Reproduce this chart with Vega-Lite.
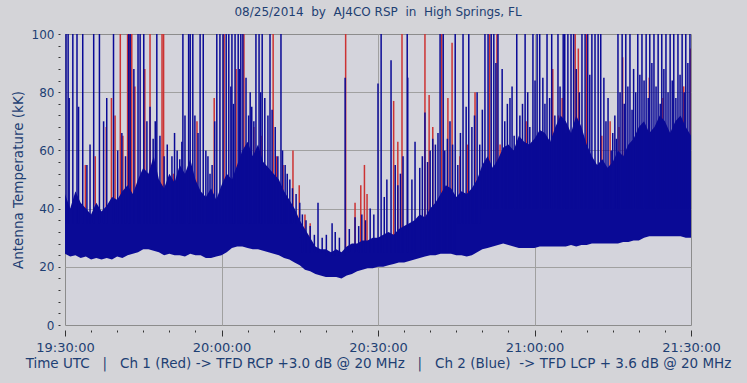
{
"$schema": "https://vega.github.io/schema/vega-lite/v6.json",
"width": 626, "height": 291,
"autosize": "none",
"padding": {"left": 65, "top": 34, "right": 56, "bottom": 58},
"background": "#d4d4d8",
"config": {"view": {"fill": "#d4d4dc", "stroke": "#8c8c8c", "strokeWidth": 1}, "font": "DejaVu Sans"},
"title": {"text": "08/25/2014\u00a0 by\u00a0 AJ4CO RSP\u00a0 in\u00a0 High Springs, FL", "fontSize": 12, "font": "DejaVu Sans", "fontWeight": "normal", "color": "#1e3f73", "offset": 9, "anchor": "middle"},
"datasets": {
"body": [
{"t":0,"lo":24.5,"hi":45},{"t":1,"lo":23.5,"hi":40},{"t":2,"lo":24,"hi":46},{"t":3,"lo":23,"hi":42},{"t":4,"lo":23.5,"hi":40},{"t":5,"lo":22.5,"hi":38},{"t":6,"lo":23,"hi":42},{"t":7,"lo":22.5,"hi":39},{"t":8,"lo":23,"hi":41},{"t":9,"lo":22.5,"hi":44},
{"t":10,"lo":23.5,"hi":43},{"t":11,"lo":23,"hi":46},{"t":12,"lo":24,"hi":48},{"t":13,"lo":24.5,"hi":45},{"t":14,"lo":25,"hi":50},{"t":15,"lo":26,"hi":54},{"t":16,"lo":26,"hi":52},{"t":17,"lo":25.5,"hi":58},{"t":18,"lo":25,"hi":50},{"t":19,"lo":24,"hi":47},
{"t":20,"lo":24.5,"hi":52},{"t":21,"lo":24,"hi":49},{"t":22,"lo":24,"hi":55},{"t":23,"lo":23.5,"hi":52},{"t":24,"lo":24.5,"hi":57},{"t":25,"lo":24,"hi":50},{"t":26,"lo":24,"hi":46},{"t":27,"lo":23,"hi":44},{"t":28,"lo":23,"hi":47},{"t":29,"lo":23.5,"hi":43},
{"t":30,"lo":24,"hi":48},{"t":31,"lo":25,"hi":52},{"t":32,"lo":26.5,"hi":50},{"t":33,"lo":27,"hi":55},{"t":34,"lo":27,"hi":60},{"t":35,"lo":26.5,"hi":63},{"t":36,"lo":26,"hi":58},{"t":37,"lo":26,"hi":62},{"t":38,"lo":25.5,"hi":56},{"t":39,"lo":25,"hi":54},
{"t":40,"lo":24.5,"hi":52},{"t":41,"lo":24,"hi":50},{"t":42,"lo":23,"hi":46},{"t":43,"lo":22.5,"hi":43},{"t":44,"lo":21.5,"hi":40},{"t":45,"lo":20.5,"hi":36},{"t":46,"lo":19,"hi":33},{"t":47,"lo":18.5,"hi":30},{"t":48,"lo":17.5,"hi":27},{"t":49,"lo":17,"hi":26},
{"t":50,"lo":16.5,"hi":26},{"t":51,"lo":16.5,"hi":25},{"t":52,"lo":16.5,"hi":26},{"t":53,"lo":16,"hi":25},{"t":54,"lo":17,"hi":27},{"t":55,"lo":17.5,"hi":28},{"t":56,"lo":18.5,"hi":28},{"t":57,"lo":19,"hi":29},{"t":58,"lo":19.5,"hi":29},{"t":59,"lo":19.5,"hi":30},
{"t":60,"lo":20,"hi":30},{"t":61,"lo":20,"hi":31},{"t":62,"lo":20.5,"hi":32},{"t":63,"lo":21,"hi":31},{"t":64,"lo":21.5,"hi":33},{"t":65,"lo":21.5,"hi":34},{"t":66,"lo":22,"hi":35},{"t":67,"lo":22.5,"hi":36},{"t":68,"lo":23,"hi":38},{"t":69,"lo":23.5,"hi":37},
{"t":70,"lo":24,"hi":40},{"t":71,"lo":24,"hi":42},{"t":72,"lo":24.5,"hi":45},{"t":73,"lo":24.5,"hi":48},{"t":74,"lo":24.5,"hi":47},{"t":75,"lo":24,"hi":44},{"t":76,"lo":24,"hi":46},{"t":77,"lo":23.5,"hi":45},{"t":78,"lo":24,"hi":47},{"t":79,"lo":25,"hi":50},
{"t":80,"lo":26,"hi":55},{"t":81,"lo":26.5,"hi":58},{"t":82,"lo":27,"hi":54},{"t":83,"lo":27.5,"hi":57},{"t":84,"lo":28,"hi":61},{"t":85,"lo":27.5,"hi":62},{"t":86,"lo":27,"hi":60},{"t":87,"lo":26.5,"hi":65},{"t":88,"lo":26.5,"hi":63},{"t":89,"lo":26.5,"hi":62},
{"t":90,"lo":26.5,"hi":64},{"t":91,"lo":27,"hi":67},{"t":92,"lo":27,"hi":66},{"t":93,"lo":27,"hi":63},{"t":94,"lo":27,"hi":68},{"t":95,"lo":27,"hi":72},{"t":96,"lo":27,"hi":70},{"t":97,"lo":27.5,"hi":66},{"t":98,"lo":27,"hi":72},{"t":99,"lo":27.5,"hi":68},
{"t":100,"lo":27.5,"hi":62},{"t":101,"lo":28,"hi":58},{"t":102,"lo":28,"hi":55},{"t":103,"lo":28,"hi":57},{"t":104,"lo":28,"hi":54},{"t":105,"lo":28,"hi":56},{"t":106,"lo":28,"hi":60},{"t":107,"lo":28.5,"hi":58},{"t":108,"lo":28.5,"hi":62},{"t":109,"lo":29,"hi":64},
{"t":110,"lo":29,"hi":68},{"t":111,"lo":30,"hi":70},{"t":112,"lo":30.5,"hi":66},{"t":113,"lo":30.5,"hi":68},{"t":114,"lo":30.5,"hi":72},{"t":115,"lo":30.5,"hi":70},{"t":116,"lo":30.5,"hi":66},{"t":117,"lo":30.5,"hi":70},{"t":118,"lo":30.5,"hi":72},{"t":119,"lo":30,"hi":68},{"t":120,"lo":30,"hi":65}
],
"bs": [
{"t":0.2,"v":100,"b":35},{"t":0.6,"v":100,"b":35},{"t":0.8,"v":78,"b":35},{"t":1.5,"v":100,"b":35},{"t":2.3,"v":100,"b":35},{"t":2.6,"v":75,"b":35},{"t":3.4,"v":100,"b":35},{"t":4.2,"v":55,"b":35},{"t":4.8,"v":62,"b":35},{"t":5.5,"v":100,"b":35},
{"t":6.6,"v":100,"b":35},{"t":7.4,"v":70,"b":35},{"t":8.0,"v":78,"b":35},{"t":9.3,"v":100,"b":35},{"t":10.1,"v":60,"b":35},{"t":10.9,"v":66,"b":35},{"t":11.6,"v":58,"b":35},{"t":12.2,"v":100,"b":35},{"t":12.5,"v":100,"b":35},{"t":13.2,"v":88,"b":35},
{"t":14.0,"v":100,"b":35},{"t":14.4,"v":100,"b":35},{"t":15.1,"v":100,"b":35},{"t":15.7,"v":70,"b":35},{"t":16.3,"v":75,"b":35},{"t":16.9,"v":64,"b":35},{"t":17.3,"v":70,"b":35},{"t":17.6,"v":100,"b":35},{"t":18.2,"v":65,"b":35},{"t":19.0,"v":58,"b":35},
{"t":19.6,"v":62,"b":35},{"t":20.5,"v":58,"b":35},{"t":21.0,"v":66,"b":35},{"t":21.5,"v":60,"b":35},{"t":22.0,"v":57,"b":35},{"t":22.4,"v":63,"b":35},{"t":22.6,"v":100,"b":35},{"t":23.0,"v":72,"b":35},{"t":23.7,"v":100,"b":35},{"t":24.0,"v":100,"b":35},
{"t":24.5,"v":100,"b":35},{"t":24.9,"v":72,"b":35},{"t":25.5,"v":66,"b":35},{"t":25.9,"v":100,"b":35},{"t":26.5,"v":100,"b":35},{"t":27.0,"v":60,"b":35},{"t":27.4,"v":58,"b":35},{"t":27.8,"v":52,"b":35},{"t":28.2,"v":55,"b":35},{"t":28.7,"v":70,"b":35},
{"t":29.1,"v":100,"b":35},{"t":29.7,"v":100,"b":35},{"t":30.3,"v":100,"b":35},{"t":30.9,"v":100,"b":35},{"t":31.4,"v":100,"b":35},{"t":31.8,"v":82,"b":35},{"t":32.0,"v":100,"b":35},{"t":32.3,"v":76,"b":35},{"t":32.6,"v":100,"b":35},{"t":33.2,"v":100,"b":35},
{"t":33.5,"v":88,"b":35},{"t":33.7,"v":100,"b":35},{"t":34.1,"v":100,"b":35},{"t":34.7,"v":85,"b":35},{"t":35.2,"v":72,"b":35},{"t":35.5,"v":80,"b":35},{"t":35.8,"v":75,"b":35},{"t":36.2,"v":70,"b":35},{"t":36.6,"v":100,"b":35},{"t":37.2,"v":100,"b":35},
{"t":37.5,"v":80,"b":35},{"t":37.8,"v":100,"b":35},{"t":38.3,"v":78,"b":35},{"t":38.9,"v":72,"b":35},{"t":39.3,"v":100,"b":35},{"t":39.7,"v":74,"b":35},{"t":40.3,"v":68,"b":35},{"t":40.8,"v":58,"b":35},{"t":41.4,"v":100,"b":35},{"t":41.7,"v":60,"b":35},
{"t":42.2,"v":55,"b":35},{"t":42.6,"v":52,"b":35},{"t":43.1,"v":50,"b":35},{"t":43.6,"v":47,"b":35},{"t":44.3,"v":45,"b":35},{"t":45.0,"v":42,"b":30},
{"t":45.5,"v":38,"b":25},{"t":46.2,"v":36,"b":25},{"t":47.0,"v":34,"b":25},{"t":47.8,"v":31,"b":25},{"t":48.5,"v":42,"b":25},{"t":49.3,"v":30,"b":25},{"t":50.1,"v":31,"b":24},{"t":51.2,"v":35,"b":24},{"t":51.8,"v":32,"b":24},{"t":52.6,"v":30,"b":24},
{"t":53.7,"v":85,"b":24},{"t":54.5,"v":33,"b":25},{"t":55.6,"v":37,"b":25},{"t":56.3,"v":34,"b":25},{"t":56.9,"v":38,"b":25},{"t":57.6,"v":36,"b":25},{"t":58.5,"v":40,"b":25},{"t":59.2,"v":38,"b":25},{"t":60.0,"v":83,"b":25},{"t":60.6,"v":100,"b":25},
{"t":61.2,"v":44,"b":25},{"t":61.7,"v":50,"b":25},{"t":62.5,"v":91,"b":25},{"t":63.3,"v":55,"b":25},{"t":63.8,"v":48,"b":25},{"t":64.3,"v":52,"b":25},{"t":64.8,"v":58,"b":25},{"t":65.6,"v":100,"b":25},{"t":65.7,"v":85,"b":25},{"t":66.5,"v":50,"b":25},
{"t":67.1,"v":63,"b":25},{"t":68.0,"v":54,"b":25},{"t":68.5,"v":58,"b":25},{"t":69.0,"v":73,"b":25},{"t":69.5,"v":56,"b":25},{"t":70.0,"v":60,"b":25},{"t":70.5,"v":64,"b":25},{"t":71.0,"v":62,"b":25},{"t":71.5,"v":66,"b":25},{"t":71.9,"v":100,"b":25},
{"t":72.5,"v":100,"b":25},{"t":72.8,"v":60,"b":25},{"t":73.3,"v":64,"b":25},{"t":73.8,"v":70,"b":25},{"t":74.3,"v":62,"b":25},{"t":74.8,"v":100,"b":25},
{"t":75.3,"v":55,"b":35},{"t":75.8,"v":66,"b":35},{"t":76.3,"v":100,"b":35},{"t":76.9,"v":75,"b":35},{"t":77.4,"v":100,"b":35},{"t":78.0,"v":68,"b":35},{"t":78.5,"v":72,"b":35},{"t":79.0,"v":80,"b":35},{"t":79.5,"v":62,"b":35},{"t":80.0,"v":74,"b":40},
{"t":80.5,"v":100,"b":40},{"t":81.1,"v":100,"b":40},{"t":81.7,"v":100,"b":40},{"t":82.2,"v":100,"b":40},{"t":82.6,"v":90,"b":40},{"t":83.0,"v":100,"b":40},{"t":83.8,"v":88,"b":40},{"t":84.3,"v":70,"b":40},{"t":84.8,"v":76,"b":40},{"t":85.3,"v":78,"b":40},
{"t":85.7,"v":82,"b":40},{"t":86.1,"v":65,"b":40},{"t":86.6,"v":100,"b":40},{"t":87.2,"v":72,"b":40},{"t":87.7,"v":76,"b":40},{"t":88.2,"v":100,"b":40},{"t":88.7,"v":80,"b":40},{"t":89.1,"v":68,"b":40},{"t":89.7,"v":100,"b":40},{"t":90.1,"v":84,"b":40},
{"t":90.5,"v":100,"b":40},{"t":91.0,"v":100,"b":40},{"t":91.6,"v":85,"b":40},{"t":92.0,"v":76,"b":40},{"t":92.4,"v":100,"b":40},{"t":92.9,"v":78,"b":40},{"t":93.3,"v":100,"b":40},{"t":93.9,"v":72,"b":40},{"t":94.5,"v":100,"b":40},{"t":94.9,"v":82,"b":40},
{"t":95.5,"v":100,"b":40},{"t":95.8,"v":100,"b":40},{"t":96.0,"v":66,"b":40},{"t":96.4,"v":100,"b":40},{"t":97.0,"v":100,"b":40},{"t":97.5,"v":100,"b":40},{"t":98.0,"v":88,"b":40},{"t":98.6,"v":80,"b":40},{"t":99.1,"v":100,"b":40},{"t":99.7,"v":100,"b":40},
{"t":100.2,"v":100,"b":40},{"t":100.6,"v":86,"b":40},{"t":101.0,"v":100,"b":40},{"t":101.6,"v":100,"b":40},{"t":102.2,"v":100,"b":40},{"t":102.7,"v":100,"b":40},{"t":103.3,"v":85,"b":40},{"t":103.7,"v":70,"b":40},{"t":104.1,"v":78,"b":40},{"t":104.7,"v":60,"b":40},
{"t":105.0,"v":66,"b":40},{"t":105.4,"v":72,"b":40},{"t":105.7,"v":64,"b":40},{"t":106.0,"v":100,"b":40},{"t":106.4,"v":80,"b":40},{"t":106.8,"v":100,"b":40},{"t":107.2,"v":76,"b":40},{"t":107.5,"v":100,"b":40},{"t":107.9,"v":82,"b":40},{"t":108.3,"v":100,"b":40},
{"t":108.7,"v":74,"b":40},{"t":109.0,"v":88,"b":40},{"t":109.4,"v":80,"b":40},{"t":109.8,"v":100,"b":40},{"t":110.2,"v":86,"b":40},{"t":110.6,"v":100,"b":40},{"t":111.0,"v":84,"b":40},{"t":111.4,"v":100,"b":40},{"t":111.8,"v":78,"b":40},{"t":112.1,"v":100,"b":40},
{"t":112.5,"v":90,"b":40},{"t":112.9,"v":100,"b":40},{"t":113.3,"v":82,"b":40},{"t":113.7,"v":100,"b":40},{"t":114.1,"v":76,"b":40},{"t":114.4,"v":100,"b":40},{"t":114.8,"v":88,"b":40},{"t":115.2,"v":100,"b":40},{"t":115.6,"v":80,"b":40},{"t":116.0,"v":100,"b":40},
{"t":116.4,"v":84,"b":40},{"t":116.7,"v":100,"b":40},{"t":117.1,"v":78,"b":40},{"t":117.5,"v":100,"b":40},{"t":117.9,"v":86,"b":40},{"t":118.3,"v":100,"b":40},{"t":118.7,"v":80,"b":40},{"t":119.0,"v":100,"b":40},{"t":119.4,"v":90,"b":40},{"t":119.8,"v":100,"b":40}
],
"rs": [
{"t":3.9,"v":55,"b":35},{"t":5.8,"v":58,"b":35},{"t":7.9,"v":68,"b":35},{"t":8.9,"v":78,"b":35},{"t":9.6,"v":72,"b":35},{"t":10.6,"v":100,"b":35},{"t":11.1,"v":65,"b":35},{"t":12.0,"v":100,"b":35},{"t":12.35,"v":100,"b":35},{"t":12.8,"v":100,"b":35},
{"t":13.4,"v":82,"b":35},{"t":15.3,"v":88,"b":35},{"t":16.3,"v":100,"b":35},{"t":18.6,"v":100,"b":35},{"t":18.9,"v":100,"b":35},{"t":20.8,"v":52,"b":35},{"t":21.8,"v":50,"b":35},{"t":25.3,"v":70,"b":35},{"t":28.6,"v":78,"b":35},{"t":30.5,"v":100,"b":35},
{"t":32.8,"v":88,"b":35},{"t":34.3,"v":100,"b":35},{"t":36.2,"v":68,"b":35},{"t":37.6,"v":65,"b":35},{"t":39.9,"v":100,"b":35},{"t":40.5,"v":58,"b":35},{"t":41.8,"v":55,"b":35},{"t":43.7,"v":60,"b":35},{"t":44.9,"v":48,"b":30},{"t":46.0,"v":38,"b":25},
{"t":47.0,"v":35,"b":25},{"t":53.8,"v":100,"b":24},{"t":55.6,"v":42,"b":25},{"t":56.7,"v":48,"b":25},{"t":57.4,"v":55,"b":25},{"t":57.9,"v":45,"b":25},{"t":63.0,"v":77,"b":25},{"t":63.8,"v":63,"b":25},{"t":64.6,"v":100,"b":25},{"t":69.0,"v":100,"b":25},
{"t":69.8,"v":79,"b":25},{"t":70.5,"v":68,"b":25},{"t":72.2,"v":100,"b":25},{"t":73.4,"v":78,"b":25},{"t":74.2,"v":97,"b":25},{"t":75.7,"v":58,"b":35},{"t":77.2,"v":62,"b":35},{"t":78.6,"v":80,"b":35},{"t":81.4,"v":100,"b":40},{"t":82.8,"v":100,"b":40},
{"t":83.4,"v":62,"b":40},{"t":85.7,"v":50,"b":40},{"t":88.4,"v":70,"b":40},{"t":90.1,"v":60,"b":40},{"t":91.8,"v":58,"b":40},{"t":93.5,"v":88,"b":40},{"t":94.6,"v":72,"b":40},{"t":95.3,"v":78,"b":40},{"t":97.8,"v":100,"b":40},{"t":98.4,"v":95,"b":40},
{"t":100.0,"v":100,"b":40},{"t":102.9,"v":65,"b":40},{"t":104.5,"v":70,"b":40},{"t":106.2,"v":68,"b":40},{"t":106.9,"v":92,"b":40},{"t":109.2,"v":55,"b":40},{"t":112.0,"v":85,"b":40},{"t":114.6,"v":78,"b":40},{"t":116.3,"v":62,"b":40},{"t":118.6,"v":82,"b":40},{"t":119.9,"v":95,"b":40}
]
},
"layer": [
{
"data": {"name": "rs"},
"mark": {"type": "rule", "color": "#cc3333", "strokeWidth": 1.5, "clip": true},
"encoding": {
"x": {"field": "t", "type": "quantitative", "scale": {"domain": [0, 120], "nice": false, "zero": false},
 "axis": {"title": "Time UTC\u00a0 \u00a0|\u00a0 \u00a0Ch 1 (Red) -> TFD RCP +3.0 dB @ 20 MHz\u00a0 \u00a0|\u00a0 \u00a0Ch 2 (Blue)\u00a0 -> TFD LCP + 3.6 dB @ 20 MHz",
  "values": [0,5,10,15,20,25,30,35,40,45,50,55,60,65,70,75,80,85,90,95,100,105,110,115,120],
  "tickCount": 200,
  "labelExpr": "datum.value == 0 ? '19:30:00' : datum.value == 30 ? '20:00:00' : datum.value == 60 ? '20:30:00' : datum.value == 90 ? '21:00:00' : datum.value == 120 ? '21:30:00' : ''",
  "labelFont": "DejaVu Sans", "labelFontSize": 13, "labelColor": "#1e3f73", "labelPadding": 5, "labelFlush": false, "labelOverlap": false,
  "titleFont": "DejaVu Sans", "titleFontSize": 13.5, "titleFontWeight": "normal", "titleColor": "#1e3f73", "titlePadding": 2,
  "domain": false, "offset": 5, "tickSize": 6, "tickColor": "#333333",
  "tickDash": {"condition": {"test": "datum.value == 0 || datum.value == 30 || datum.value == 60 || datum.value == 90 || datum.value == 120", "value": []}, "value": [2, 10]},
  "grid": true, "gridColor": "#a0a0a0",
  "gridOpacity": {"condition": {"test": "datum.value == 30 || datum.value == 60 || datum.value == 90", "value": 1}, "value": 0}}},
"y": {"field": "b", "type": "quantitative", "scale": {"domain": [0, 100], "nice": false},
 "axis": {"title": "Antenna Temperature (kK)",
  "values": [0,4,8,12,16,20,24,28,32,36,40,44,48,52,56,60,64,68,72,76,80,84,88,92,96,100],
  "tickCount": 200, "format": "d",
  "labelExpr": "datum.value == 0 || datum.value == 20 || datum.value == 40 || datum.value == 60 || datum.value == 80 || datum.value == 100 ? datum.label : ''",
  "labelFont": "DejaVu Sans", "labelFontSize": 12, "labelColor": "#1e3f73", "labelPadding": 4, "labelFlush": false, "labelOverlap": false,
  "titleFont": "DejaVu Sans", "titleFontSize": 13.5, "titleFontWeight": "normal", "titleColor": "#1e3f73", "titlePadding": 6,
  "domain": false, "offset": 5, "tickSize": 2, "tickColor": "#333333",
  "grid": true, "gridColor": "#a0a0a0",
  "gridOpacity": {"condition": {"test": "datum.value == 20 || datum.value == 40 || datum.value == 60 || datum.value == 80", "value": 1}, "value": 0}}},
"y2": {"field": "v"}
}
},
{
"data": {"name": "body"},
"mark": {"type": "area", "color": "#0a0a96", "opacity": 1, "clip": true},
"encoding": {
"x": {"field": "t", "type": "quantitative"},
"y": {"field": "lo", "type": "quantitative"},
"y2": {"field": "hi"}
}
},
{
"data": {"name": "bs"},
"mark": {"type": "rule", "color": "#0a0a96", "strokeWidth": 1.5, "clip": true},
"encoding": {
"x": {"field": "t", "type": "quantitative"},
"y": {"field": "b", "type": "quantitative"},
"y2": {"field": "v"}
}
}
]
}
